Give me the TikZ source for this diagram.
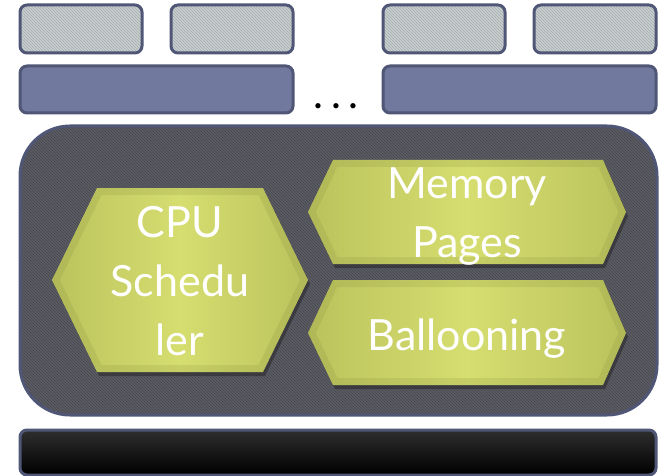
\documentclass[tikz,border=0pt]{standalone}
\usepackage{fontspec}
\setmainfont{Lato}
\usetikzlibrary{patterns}
\definecolor{frame}{HTML}{4F5676}
\definecolor{vmfill}{HTML}{717A9E}
\definecolor{appfill}{HTML}{C9CFCF}
\definecolor{apphatch}{HTML}{A4ACAE}
\definecolor{panelfill}{HTML}{5C5C64}
\definecolor{panelhatch}{HTML}{47474E}
\definecolor{hexlight}{HTML}{D6DE70}
\definecolor{hexdark}{HTML}{BAC25C}
\definecolor{bevel}{HTML}{8A9040}
\definecolor{hwtop}{HTML}{2E2E2E}

% hexagon with shading, inner bevel and a soft shadow
\newcommand\bevelhex[1]{%
  \fill[black,opacity=0.3,shift={(2,4)}] #1;
  \shade[left color=hexdark,right color=hexdark,middle color=hexlight] #1;
  \begin{scope}
    \clip #1;
    \draw[bevel,opacity=0.2,line width=14] #1;
  \end{scope}}

\begin{document}
\begin{tikzpicture}[x=1pt,y=-1pt,
  app/.style={preaction={fill=appfill},
              preaction={pattern=north west lines,pattern color=apphatch},
              draw=frame,line width=3,rounded corners=7},
  vm/.style={fill=vmfill,draw=frame,line width=3,rounded corners=7},
  label/.style={text=white,font=\fontsize{43}{59}\selectfont,align=center,inner sep=0}]
\useasboundingbox (0,0) rectangle (664,476);

% guest applications
\path[app] (20,5) rectangle (142,53);
\path[app] (171,5) rectangle (293,53);
\path[app] (383,5) rectangle (505,53);
\path[app] (534,5) rectangle (656,53);

% virtual machines
\path[vm] (20,66) rectangle (293,113);
\path[vm] (383,66) rectangle (656,113);
\node[inner sep=0,anchor=base] (dots) at (336,109)
  {\fontsize{42}{42}\selectfont .\hspace{8pt}.\hspace{8pt}.};

% hypervisor panel
\path[preaction={fill=panelfill},
      preaction={pattern=north west lines,pattern color=panelhatch},
      draw=frame,line width=3,rounded corners=50] (20,126) rectangle (657,415);

\bevelhex{(52,280) -- (97,188) -- (263,188) -- (308,280) -- (263,372) -- (97,372) -- cycle}
\bevelhex{(308,212) -- (333,160) -- (603,160) -- (626,212) -- (603,264) -- (333,264) -- cycle}
\bevelhex{(308,333) -- (333,280) -- (603,280) -- (626,333) -- (603,385) -- (333,385) -- cycle}

\node[label,anchor=base] (cpu) at (180,355) {CPU\\Schedu\\ler};
\node[label,anchor=base] (mem) at (467,257) {Memory\\Pages};
\node[label,anchor=base] (bal) at (467,350) {Ballooning};

% hardware
\path[top color=hwtop,bottom color=black,draw=frame,line width=3,rounded corners=7]
  (20,430) rectangle (656,475);
\end{tikzpicture}
\end{document}
